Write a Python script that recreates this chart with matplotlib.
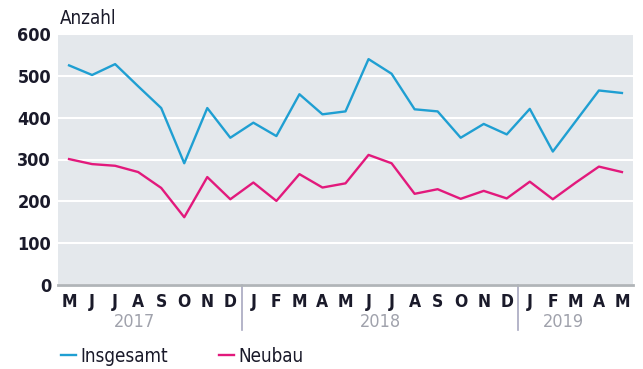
import matplotlib
matplotlib.use('Agg')
import matplotlib.pyplot as plt
from matplotlib.lines import Line2D

# Monatswerte Mai 2017 bis Mai 2019
months = ['M', 'J', 'J', 'A', 'S', 'O', 'N', 'D',
          'J', 'F', 'M', 'A', 'M', 'J', 'J', 'A', 'S', 'O', 'N', 'D',
          'J', 'F', 'M', 'A', 'M']
years = ['2017', '2018', '2019']
year_pos = [2.82, 13.5, 21.44]
year_breaks = [7.5, 19.5]

insgesamt = [525, 502, 528, 475, 423, 291, 423, 352, 388, 356, 456, 408, 415,
             540, 505, 420, 415, 352, 385, 360, 421, 319, 392, 465, 459]
neubau = [301, 289, 285, 270, 232, 162, 258, 205, 245, 201, 265, 233, 243,
          311, 291, 218, 229, 206, 225, 207, 247, 205, 245, 283, 270]

blue = '#1f9fd2'
pink = '#e2197c'
dark = '#1a1a2a'

plt.rcParams['font.family'] = ['DejaVu Sans']
plt.rcParams['font.stretch'] = 'condensed'

fig = plt.figure(figsize=(6.43, 3.69), dpi=100)
ax = fig.add_axes([58 / 643, 1 - 285 / 369, 575 / 643, 251 / 369])
ax.set_facecolor('#e4e8ec')

x = list(range(len(months)))
ax.plot(x, insgesamt, color=blue, lw=1.7, zorder=3)
ax.plot(x, neubau, color=pink, lw=1.7, zorder=3)

ax.set_xlim(-0.48, len(months) - 0.52)
ax.set_ylim(0, 600)
ax.set_yticks(range(0, 601, 100))
ax.yaxis.grid(True, color='white', lw=1.5)
ax.set_axisbelow(True)
for s in ['top', 'right', 'left']:
    ax.spines[s].set_visible(False)
ax.spines['bottom'].set_color('#b0b4b8')
ax.spines['bottom'].set_linewidth(2)

ax.tick_params(axis='y', length=0, pad=5, labelsize=13, labelcolor=dark)
ax.tick_params(axis='x', length=0, pad=5.5, labelsize=12.5, labelcolor=dark)
ax.set_xticks(x)
ax.set_xticklabels(months, fontweight='bold')
for lab in ax.get_yticklabels():
    lab.set_fontweight('semibold')

# Jahre und Trennlinien unter der Achse
trans = ax.get_xaxis_transform()
for xb in year_breaks:
    ax.plot([xb, xb], [0, -0.18], color='#a8a8c0', lw=1.2,
            transform=trans, clip_on=False)
for xp, yr in zip(year_pos, years):
    ax.text(xp, -0.148, yr, transform=trans, ha='center', va='center',
            fontsize=13, color='#a0a2ac')

fig.text(60 / 643, 1 - 19 / 369, 'Anzahl', ha='left', va='center',
         fontsize=13.5, color=dark)

handles = [Line2D([], [], color=blue, lw=1.7),
           Line2D([], [], color=pink, lw=1.7)]
fig.legend(handles, ['Insgesamt', 'Neubau'], loc='center left',
           bbox_to_anchor=(44 / 643, 1 - 356 / 369), ncol=2, frameon=False,
           fontsize=13.5, handlelength=0.8, handletextpad=0.25,
           columnspacing=2.7, labelcolor=dark)

fig.savefig('out.png', dpi=100)
